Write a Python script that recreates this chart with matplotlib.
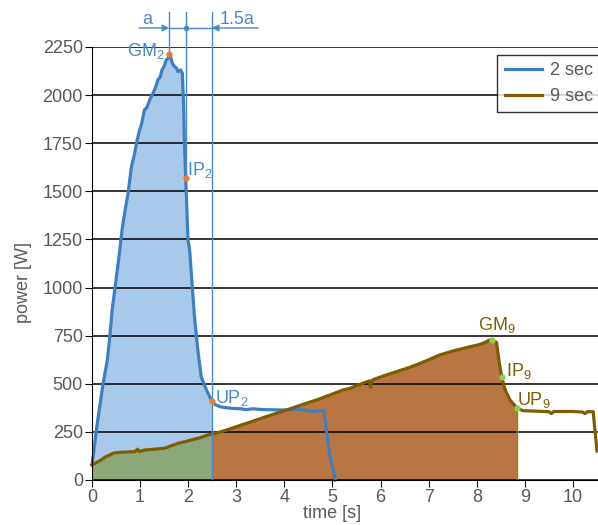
import matplotlib
matplotlib.use("Agg")
import matplotlib.pyplot as plt
import numpy as np

plt.rcParams['font.family'] = ['Liberation Sans', 'DejaVu Sans']
plt.rcParams['mathtext.default'] = 'regular'

# power trace of the 2 second effort
t_2sec = [0.00, 0.04, 0.09, 0.16, 0.23, 0.32, 0.37, 0.42, 0.50, 0.575, 0.63, 0.70,
          0.75, 0.82, 0.88, 0.94, 0.99, 1.03, 1.09, 1.14, 1.20, 1.27, 1.32, 1.37,
          1.42, 1.455, 1.50, 1.545, 1.58, 1.608, 1.64, 1.67, 1.718, 1.76, 1.788,
          1.843, 1.878, 1.906, 1.92, 1.948, 1.996, 2.03, 2.08, 2.13, 2.20, 2.27,
          2.38, 2.49, 2.56, 2.66, 2.80, 2.94, 3.10, 3.20, 3.35, 3.49, 3.70, 3.97,
          4.32, 4.60, 4.82, 4.88, 4.95, 5.06]
p_2sec = [80, 150, 260, 380, 500, 625, 745, 885, 1040, 1190, 1310, 1420,
          1490, 1628, 1690, 1767, 1819, 1850, 1923, 1935, 1975, 2010, 2040, 2079,
          2095, 2131, 2150, 2183, 2190, 2214, 2195, 2165, 2148, 2140, 2122,
          2131, 2114, 1940, 1767, 1568, 1247, 1195, 1022, 849, 676, 537,
          468, 410, 392, 381, 375, 372, 370, 366, 370, 367, 365, 364,
          367, 356, 362, 243, 121, 0]

# power trace of the 9 second effort
t_9sec = [0.00, 0.10, 0.19, 0.28, 0.37, 0.45, 0.58, 0.75, 0.89, 0.95, 0.98, 1.10,
          1.30, 1.51, 1.65, 1.79, 1.95, 2.06, 2.25, 2.41, 2.62, 2.80, 3.10, 3.42,
          3.75, 4.05, 4.35, 4.67, 4.95, 5.22, 5.36, 5.55, 5.77, 5.79, 5.83, 6.05,
          6.33, 6.60, 6.82, 7.05, 7.23, 7.50, 7.72, 7.90, 8.03, 8.15, 8.27, 8.32,
          8.41, 8.47, 8.52, 8.59, 8.69, 8.84, 8.97, 9.20, 9.50, 9.55, 9.60, 10.00,
          10.20, 10.25, 10.30, 10.42, 10.46, 10.50]
p_9sec = [78, 92, 104, 120, 130, 140, 144, 146, 147, 160, 148, 156,
          160, 165, 178, 191, 200, 208, 220, 234, 246, 260, 285, 312,
          340, 364, 390, 416, 442, 468, 476, 495, 515, 483, 520, 540,
          563, 585, 606, 630, 650, 670, 684, 695, 702, 712, 728, 728,
          715, 606, 534, 468, 416, 372, 360, 358, 355, 345, 356, 356,
          353, 345, 355, 355, 250, 150]

# characteristic points (time, power)
gm2, ip2, up2 = (1.608, 2214), (1.948, 1568), (2.49, 410)
gm9, ip9, up9 = (8.32, 728), (8.52, 534), (8.84, 372)

blue = '#3d7fc1'
blue_txt = '#4a88c7'
brown = '#7f5c00'
gray = '#595959'

fig = plt.figure(figsize=(5.98, 5.25), dpi=100)
ax = fig.add_axes([92 / 598, 45 / 525, 506 / 598, 433 / 525])

t2 = np.array(t_2sec)
p2 = np.array(p_2sec)
t9 = np.array(t_9sec)
p9 = np.array(p_9sec)

# shaded work areas
m2 = t2 <= up2[0]
ax.fill_between(t2[m2], 0, p2[m2], color='#a9c9ea', lw=0, zorder=1)
p9_at_up2 = np.interp(up2[0], t9, p9)
m9a = t9 < up2[0]
ax.fill_between(np.append(t9[m9a], up2[0]), 0, np.append(p9[m9a], p9_at_up2),
                color='#8ba878', lw=0, zorder=2)
m9b = (t9 > up2[0]) & (t9 <= up9[0])
ax.fill_between(np.concatenate([[up2[0]], t9[m9b]]), 0,
                np.concatenate([[p9_at_up2], p9[m9b]]),
                color='#ba7642', lw=0, zorder=2)
ax.plot([up9[0], up9[0]], [0, up9[1]], color='#9a7a20', lw=1, zorder=3)

ax.set_xlim(0, 10.52)
ax.set_ylim(0, 2250)
ax.set_yticks(np.arange(0, 2251, 250))
ax.set_xticks(np.arange(0, 11, 1))
ax.yaxis.grid(True, color='black', lw=1.1)
ax.set_axisbelow(False)
for gl in ax.get_ygridlines():
    gl.set_zorder(2.5)
ax.spines['top'].set_visible(False)
ax.spines['right'].set_visible(False)
ax.spines['left'].set_color('black')
ax.spines['bottom'].set_color('black')
ax.spines['left'].set_zorder(6)
ax.spines['bottom'].set_zorder(6)
ax.tick_params(direction='out', length=5, color='black', labelcolor=gray,
               labelsize=13, pad=1.5)

ax.plot(t2, p2, color=blue, lw=2.3, zorder=4, label='2 sec', clip_on=False)
ax.plot(t9, p9, color=brown, lw=2.3, zorder=4.5, label='9 sec', clip_on=False)

# markers on the characteristic points
for pt in (gm2, ip2, up2):
    ax.plot(*pt, 'o', ms=3.5, color='#ed7d31', zorder=7)
for pt in (gm9, ip9, up9):
    ax.plot(*pt, 'o', ms=3.5, color='#92d050', zorder=7)

# guide lines for the a / 1.5a construction above the plot
top = 2434
ax.plot([gm2[0], gm2[0]], [gm2[1], top], color=blue_txt, lw=1, clip_on=False, zorder=5)
ax.plot([ip2[0], ip2[0]], [ip2[1], top], color=blue_txt, lw=1, clip_on=False, zorder=5)
ax.plot([up2[0], up2[0]], [0, top], color=blue_txt, lw=1, clip_on=False, zorder=5)
arr_y = 2349
ax.plot([gm2[0], up2[0]], [arr_y, arr_y], color=blue_txt, lw=1, clip_on=False)
ax.plot(ip2[0], arr_y, 'o', ms=3, color=blue_txt, clip_on=False)
ax.annotate('', xy=(gm2[0], arr_y), xytext=(0.98, arr_y), annotation_clip=False,
            arrowprops=dict(arrowstyle='-|>', color=blue_txt, lw=1,
                            mutation_scale=10, shrinkA=0, shrinkB=0))
ax.annotate('', xy=(up2[0], arr_y), xytext=(3.45, arr_y), annotation_clip=False,
            arrowprops=dict(arrowstyle='-|>', color=blue_txt, lw=1,
                            mutation_scale=10, shrinkA=0, shrinkB=0))
ax.text(1.154, 2394, 'a', color=blue_txt, fontsize=13, ha='center', va='center')
ax.text(3.01, 2394, '1.5a', color=blue_txt, fontsize=13, ha='center', va='center')

# point labels
ax.text(1.50, 2175, 'GM$_2$', color=blue_txt, fontsize=13, ha='right', va='bottom', zorder=8)
ax.text(1.97, 1611, 'IP$_2$', color=blue_txt, fontsize=13, ha='left', va='center', zorder=8)
ax.text(2.56, 426, 'UP$_2$', color=blue_txt, fontsize=13, ha='left', va='center', zorder=8)
ax.text(8.42, 806, 'GM$_9$', color=brown, fontsize=13, ha='center', va='center', zorder=8)
ax.text(8.61, 567, 'IP$_9$', color=brown, fontsize=13, ha='left', va='center', zorder=8)
ax.text(8.84, 416, 'UP$_9$', color=brown, fontsize=13, ha='left', va='center', zorder=8)

ax.set_xlabel('time [s]', fontsize=13, color=gray)
ax.set_ylabel('power [W]', fontsize=13, color=gray)
ax.xaxis.set_label_coords(0.475, -0.058)
ax.yaxis.set_label_coords(-0.118, 0.457)

leg = ax.legend(loc='upper right', bbox_to_anchor=(1.004, 0.982), fontsize=13,
                frameon=True, fancybox=False, handlelength=2.1, borderpad=0.4,
                labelspacing=0.5, handletextpad=0.4, borderaxespad=0)
leg.get_frame().set_edgecolor('black')
leg.get_frame().set_linewidth(1)
leg.set_zorder(10)
for txt in leg.get_texts():
    txt.set_color(gray)

fig.savefig('out.png', dpi=100)
